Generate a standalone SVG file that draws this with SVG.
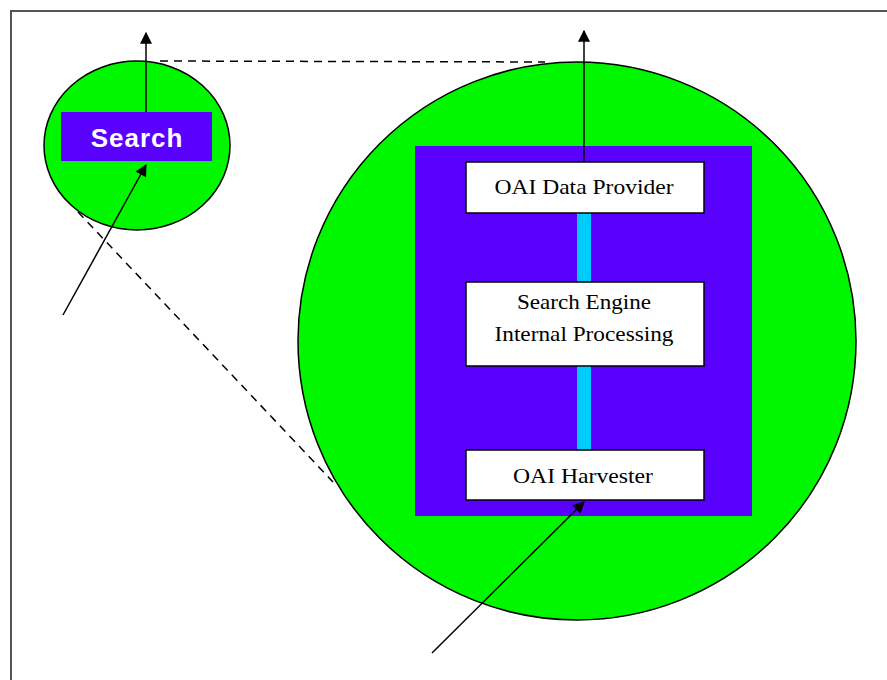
<svg xmlns="http://www.w3.org/2000/svg" width="887" height="680" viewBox="0 0 887 680">
<defs>
<style>
.green{fill:#00f700;stroke:#000;stroke-width:1.5}
.purple{fill:#5a00ff}
.box{fill:#fff;stroke:#000;stroke-width:1.5}
.lbl{font-family:"Liberation Serif","Times New Roman",serif;font-size:22px;fill:#000;text-anchor:middle}
.conn{stroke:#000;stroke-width:1.5;fill:none}
.dash{stroke:#000;stroke-width:1.5;fill:none;stroke-dasharray:8,6}
</style>
<marker id="ah" viewBox="0 0 10 10" refX="9" refY="5" markerWidth="13" markerHeight="12" markerUnits="userSpaceOnUse" orient="auto">
<path d="M0,0 L10,5 L0,10 z" fill="#000"/>
</marker>
</defs>
<rect x="0" y="0" width="887" height="680" fill="#fff"/>
<path d="M11,680 L11,11 L887,11" fill="none" stroke="#555" stroke-width="2"/>
<g id="big-circle">
<circle class="green" cx="577" cy="341" r="279"/>
<rect class="purple" x="415" y="146" width="337" height="370"/>
<rect x="577" y="213" width="14" height="237" fill="#00ccff"/>
</g>
<g id="small-circle">
<ellipse class="green" cx="137" cy="145.5" rx="93" ry="84.5"/>
</g>
<g id="search">
<rect class="purple" x="61" y="112" width="151" height="49"/>
<text x="137" y="147" font-family="'Liberation Sans',Arial,sans-serif" font-weight="bold" font-size="26" letter-spacing="1" fill="#fff" text-anchor="middle">Search</text>
</g>
<g id="oai-data-provider">
<rect class="box" x="466" y="162" width="238" height="51"/>
<text class="lbl" x="584" y="194" textLength="179" lengthAdjust="spacingAndGlyphs">OAI Data Provider</text>
</g>
<g id="search-engine">
<rect class="box" x="466" y="282" width="238" height="84"/>
<text class="lbl" x="584" y="309" textLength="134" lengthAdjust="spacingAndGlyphs">Search Engine</text>
<text class="lbl" x="584" y="341" textLength="179" lengthAdjust="spacingAndGlyphs">Internal Processing</text>
</g>
<g id="oai-harvester">
<rect class="box" x="466" y="450" width="238" height="50"/>
<text class="lbl" x="583" y="483" textLength="140" lengthAdjust="spacingAndGlyphs">OAI Harvester</text>
</g>
<g id="connectors">
<line class="dash" x1="160" y1="61" x2="545" y2="62"/>
<line class="dash" x1="78" y1="212" x2="333" y2="482"/>
<line class="conn" x1="146" y1="112" x2="146" y2="33" marker-end="url(#ah)"/>
<line class="conn" x1="584" y1="162" x2="584" y2="31" marker-end="url(#ah)"/>
<line class="conn" x1="63" y1="315" x2="146" y2="165" marker-end="url(#ah)"/>
<line class="conn" x1="432" y1="653" x2="584" y2="502" marker-end="url(#ah)"/>
</g>
</svg>
